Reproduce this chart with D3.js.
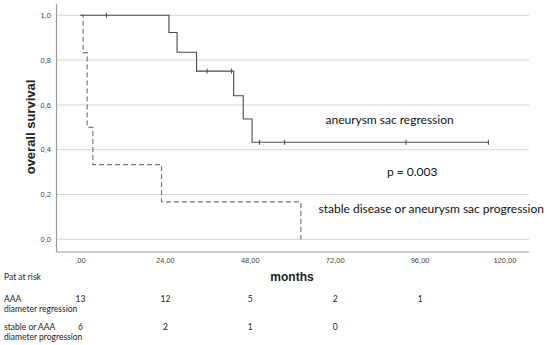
<!DOCTYPE html>
<html>
<head>
<meta charset="utf-8">
<script src="https://cdn.jsdelivr.net/npm/d3@7"></script>
<style>
  body { margin: 0; background: #fff; }
  svg { display: block; }
</style>
</head>
<body>
<div id="root"></div>
<script>
// Kaplan-Meier steps (months, survival)
var regTimes = [0, 25, 27.3, 32.8, 43.3, 46, 48.5, 115.3];
var regSurv  = [1.0, 0.923, 0.835, 0.751, 0.641, 0.537, 0.433, 0.433];
var regCensored = [7.3, 35.8, 42.7, 50.6, 57.7, 92, 115.3];

var progTimes = [0, 0.75, 1.9, 3.5, 22.9, 62.3];
var progSurv  = [1.0, 0.833, 0.5, 0.333, 0.167, 0];

var xTicks = [0, 24, 48, 72, 96, 120];
var xTickLabels = [",00", "24,00", "48,00", "72,00", "96,00", "120,00"];
var yTicks = [0, 0.2, 0.4, 0.6, 0.8, 1.0];
var yTickLabels = ["0,0", "0,2", "0,4", "0,6", "0,8", "1,0"];

var riskTimes = [0, 24, 48, 72, 96];
var riskRegression = [13, 12, 5, 2, 1];
var riskProgression = [6, 2, 1, 0];

var width = 550, height = 345;

var svg = d3.select("#root").append("svg")
  .attr("width", width)
  .attr("height", height);

var x = d3.scaleLinear().domain([0, 120]).range([80.5, 505]);
var y = d3.scaleLinear().domain([0, 1]).range([239.3, 15.3]);

var plotLeft = 56.5, plotRight = 529, plotBottom = 252, plotTop = 4;

// gridlines
svg.append("g")
  .selectAll("line")
  .data(yTicks)
  .join("line")
  .attr("x1", plotLeft)
  .attr("x2", plotRight)
  .attr("y1", function(d) { return y(d); })
  .attr("y2", function(d) { return y(d); })
  .attr("stroke", "#d6d6d6")
  .attr("stroke-width", 1);

// axis frame lines
svg.append("line")
  .attr("x1", plotLeft).attr("x2", plotLeft)
  .attr("y1", plotTop).attr("y2", plotBottom)
  .attr("stroke", "#9a9a9a").attr("stroke-width", 1.2);
svg.append("line")
  .attr("x1", plotLeft).attr("x2", plotRight)
  .attr("y1", plotBottom).attr("y2", plotBottom)
  .attr("stroke", "#9a9a9a").attr("stroke-width", 1.2);

// tick labels
svg.append("g")
  .selectAll("text")
  .data(yTicks)
  .join("text")
  .attr("x", 51)
  .attr("y", function(d) { return y(d); })
  .attr("dy", "0.35em")
  .attr("text-anchor", "end")
  .attr("font-family", "Liberation Sans, Arial, sans-serif")
  .attr("font-size", 7.5)
  .attr("fill", "#444")
  .text(function(d, i) { return yTickLabels[i]; });

svg.append("g")
  .selectAll("text")
  .data(xTicks)
  .join("text")
  .attr("x", function(d) { return x(d); })
  .attr("y", 260)
  .attr("dy", "0.35em")
  .attr("text-anchor", "middle")
  .attr("font-family", "Liberation Sans, Arial, sans-serif")
  .attr("font-size", 7.5)
  .attr("fill", "#444")
  .text(function(d, i) { return xTickLabels[i]; });

// axis titles
svg.append("text")
  .attr("x", 292)
  .attr("y", 277)
  .attr("dy", "0.35em")
  .attr("text-anchor", "middle")
  .attr("font-family", "Liberation Sans, Arial, sans-serif")
  .attr("font-weight", "bold")
  .attr("font-size", 12)
  .attr("fill", "#222")
  .text("months");

svg.append("text")
  .attr("transform", "translate(30,127) rotate(-90)")
  .attr("dy", "0.35em")
  .attr("text-anchor", "middle")
  .attr("font-family", "Liberation Sans, Arial, sans-serif")
  .attr("font-weight", "bold")
  .attr("font-size", 13)
  .attr("fill", "#222")
  .text("overall survival");

// survival curves
var stepLine = d3.line()
  .x(function(d) { return x(d[0]); })
  .y(function(d) { return y(d[1]); })
  .curve(d3.curveStepAfter);

var regData = d3.zip(regTimes, regSurv);
var progData = d3.zip(progTimes, progSurv);

svg.append("path")
  .attr("d", stepLine(progData))
  .attr("fill", "none")
  .attr("stroke", "#7a7a7a")
  .attr("stroke-width", 1.2)
  .attr("stroke-dasharray", "5 3");

svg.append("path")
  .attr("d", stepLine(regData))
  .attr("fill", "none")
  .attr("stroke", "#4a4a4a")
  .attr("stroke-width", 1.1);

// survival at a given time, for placing censor marks
var survAt = function(t) {
  var i = d3.bisectRight(regTimes, t) - 1;
  return regSurv[Math.max(0, i)];
};

svg.append("g")
  .selectAll("line")
  .data(regCensored)
  .join("line")
  .attr("x1", function(d) { return x(d); })
  .attr("x2", function(d) { return x(d); })
  .attr("y1", function(d) { return y(survAt(d)) - 2.5; })
  .attr("y2", function(d) { return y(survAt(d)) + 2.5; })
  .attr("stroke", "#4a4a4a")
  .attr("stroke-width", 1);

// annotations
var note = function(tx, ty, str) {
  svg.append("text")
    .attr("x", tx)
    .attr("y", ty)
    .attr("dy", "0.35em")
    .attr("font-family", "Lato, Open Sans, sans-serif")
    .attr("font-size", 12)
    .attr("fill", "#111")
    .text(str);
};
note(325.5, 120, "aneurysm sac regression");
note(387, 172, "p = 0.003");
note(318.5, 209, "stable disease or aneurysm sac progression");

// patients at risk table
var small = function(tx, ty, str, anchor) {
  svg.append("text")
    .attr("x", tx)
    .attr("y", ty)
    .attr("dy", "0.35em")
    .attr("text-anchor", anchor || "start")
    .attr("font-family", "Lato, Open Sans, sans-serif")
    .attr("font-size", 8.5)
    .attr("fill", "#222")
    .text(str);
};
small(4, 277.5, "Pat at risk");
small(4, 299, "AAA");
small(4, 309, "diameter regression");
small(4, 327.5, "stable or AAA");
small(4, 337.5, "diameter progression");

svg.append("g")
  .selectAll("text")
  .data(riskRegression)
  .join("text")
  .attr("x", function(d, i) { return x(riskTimes[i]); })
  .attr("y", 299.5)
  .attr("dy", "0.35em")
  .attr("text-anchor", "middle")
  .attr("font-family", "Lato, Open Sans, sans-serif")
  .attr("font-size", 8.5)
  .attr("fill", "#222")
  .text(function(d) { return d; });

svg.append("g")
  .selectAll("text")
  .data(riskProgression)
  .join("text")
  .attr("x", function(d, i) { return x(riskTimes[i]); })
  .attr("y", 327.5)
  .attr("dy", "0.35em")
  .attr("text-anchor", "middle")
  .attr("font-family", "Lato, Open Sans, sans-serif")
  .attr("font-size", 8.5)
  .attr("fill", "#222")
  .text(function(d) { return d; });
</script>
</body>
</html>
